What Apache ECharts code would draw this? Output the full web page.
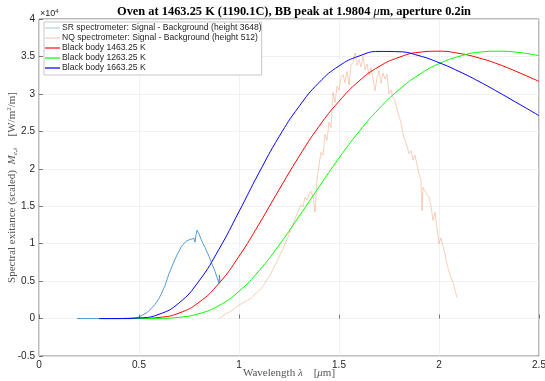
<!DOCTYPE html>
<html>
<head>
<meta charset="utf-8">
<script src="https://cdn.jsdelivr.net/npm/echarts@6/dist/echarts.min.js"></script>
<style>
  html, body { margin: 0; padding: 0; background: #fff; }
  #chart { width: 545px; height: 381px; }
</style>
</head>
<body>
<div id="chart"></div>
<script>
// values in units of 1e4 (axis shows x10^4)
const bbWavelength = [0.3, 0.4, 0.5, 0.6, 0.7, 0.8, 0.9, 1.0, 1.1, 1.2, 1.3, 1.4, 1.5, 1.6, 1.7, 1.8, 1.9, 2.0, 2.1, 2.2, 2.3, 2.4, 2.5];
const bb1463 = [0, 0, 0.001, 0.015, 0.073, 0.217, 0.471, 0.831, 1.261, 1.719, 2.164, 2.566, 2.901, 3.171, 3.365, 3.488, 3.556, 3.57, 3.541, 3.48, 3.393, 3.284, 3.167];
const bb1263 = [0, 0, 0, 0.002, 0.017, 0.065, 0.174, 0.364, 0.638, 0.979, 1.363, 1.758, 2.143, 2.496, 2.802, 3.056, 3.256, 3.403, 3.5, 3.557, 3.57, 3.553, 3.51];
const bb1663 = [0, 0, 0.008, 0.057, 0.208, 0.502, 0.926, 1.428, 1.947, 2.427, 2.831, 3.151, 3.373, 3.505, 3.567, 3.563, 3.51, 3.417, 3.3, 3.166, 3.018, 2.865, 2.71];

const srWavelength = [0.19, 0.25, 0.3, 0.35, 0.4, 0.45, 0.48, 0.5, 0.51, 0.52, 0.53, 0.54, 0.55, 0.56, 0.57, 0.58, 0.59, 0.6, 0.61, 0.62, 0.63, 0.64, 0.65, 0.66, 0.67, 0.68, 0.69, 0.7, 0.71, 0.72, 0.73, 0.74, 0.75, 0.76, 0.77, 0.775, 0.78, 0.785, 0.79, 0.8, 0.81, 0.82, 0.83, 0.84, 0.85, 0.86, 0.87, 0.88, 0.89, 0.895, 0.9, 0.902, 0.905];
const srSignal = [0, 0, 0, 0, 0, 0.005, 0.01, 0.02, 0.03, 0.05, 0.06, 0.08, 0.1, 0.13, 0.16, 0.19, 0.23, 0.27, 0.32, 0.38, 0.44, 0.52, 0.6, 0.66, 0.73, 0.79, 0.85, 0.9, 0.95, 0.99, 1.01, 1.04, 1.03, 1.06, 1.04, 1.07, 1.02, 1.12, 1.18, 1.13, 1.06, 1.0, 0.95, 0.89, 0.83, 0.76, 0.7, 0.63, 0.55, 0.53, 0.47, 0.58, 0.49];

const nqWavelength = [0.9, 0.91, 0.92, 0.93, 0.94, 0.95, 0.96, 0.97, 0.98, 0.99, 1.0, 1.01, 1.02, 1.03, 1.04, 1.05, 1.06, 1.07, 1.08, 1.09, 1.1, 1.11, 1.12, 1.13, 1.14, 1.15, 1.16, 1.17, 1.18, 1.19, 1.2, 1.21, 1.22, 1.23, 1.24, 1.25, 1.26, 1.27, 1.28, 1.29, 1.3, 1.31, 1.32, 1.33, 1.34, 1.35, 1.36, 1.37, 1.38, 1.39, 1.4, 1.41, 1.42, 1.43, 1.44, 1.45, 1.46, 1.47, 1.48, 1.49, 1.5, 1.51, 1.52, 1.53, 1.54, 1.55, 1.56, 1.57, 1.58, 1.59, 1.6, 1.61, 1.62, 1.63, 1.64, 1.65, 1.66, 1.67, 1.68, 1.69, 1.7, 1.71, 1.72, 1.73, 1.74, 1.75, 1.76, 1.77, 1.78, 1.79, 1.8, 1.81, 1.82, 1.83, 1.84, 1.85, 1.86, 1.87, 1.88, 1.89, 1.9, 1.91, 1.915, 1.92, 1.93, 1.94, 1.95, 1.96, 1.97, 1.98, 1.99, 2.0, 2.01, 2.02, 2.03, 2.04, 2.05, 2.06, 2.07, 2.08, 2.09];
const nqSignal = [0, 0.02, 0.04, 0.05, 0.07, 0.08, 0.1, 0.12, 0.14, 0.16, 0.18, 0.19, 0.21, 0.22, 0.24, 0.23, 0.27, 0.3, 0.31, 0.35, 0.37, 0.4, 0.43, 0.47, 0.52, 0.56, 0.6, 0.66, 0.71, 0.76, 0.82, 0.88, 0.93, 1.0, 1.06, 1.12, 1.2, 1.26, 1.33, 1.4, 1.46, 1.52, 1.49, 1.62, 1.58, 1.66, 1.7, 1.62, 1.42, 1.85, 2.05, 2.22, 2.18, 2.46, 2.38, 2.62, 2.55, 3.02, 2.88, 3.1, 3.05, 3.22, 3.26, 3.15, 3.3, 3.12, 3.38, 3.42, 3.55, 3.38, 3.46, 3.36, 3.5, 3.32, 3.4, 3.25, 3.35, 3.2, 3.04, 3.22, 3.31, 3.14, 3.28, 3.2, 3.26, 3.0, 3.05, 2.95, 2.91, 2.8, 2.7, 2.62, 2.46, 2.38, 2.3, 2.2, 2.24, 2.12, 2.18, 2.2, 1.93, 1.84, 1.44, 1.75, 1.7, 1.66, 1.62, 1.5, 1.31, 1.42, 1.4, 1.0, 1.08, 0.96, 0.86, 0.73, 0.62, 0.55, 0.48, 0.38, 0.28];

const xTicks = [0, 0.5, 1, 1.5, 2, 2.5];
const yTicks = [-0.5, 0, 0.5, 1, 1.5, 2, 2.5, 3, 3.5, 4];

const zip = (xs, ys) => xs.map((x, i) => [x, ys[i]]);

const chart = echarts.init(document.getElementById('chart'));
const sans = 'Liberation Sans';
const serif = 'Liberation Serif';

const lineSeries = (name, xs, ys, color, width, opacity, smooth) => ({
  name: name,
  type: 'line',
  data: zip(xs, ys),
  symbol: 'none',
  smooth: smooth,
  lineStyle: { color: color, width: width, opacity: opacity },
  itemStyle: { color: color },
  z: 2
});

const legendEntry = (name, color) => ({ name: name, icon: 'rect', itemStyle: { color: color } });

chart.setOption({
  animation: false,
  title: {
    text: 'Oven at 1463.25 K (1190.1C), BB peak at 1.9804 {i|μ}m, aperture 0.2in',
    left: 289,
    textAlign: 'center',
    top: 1,
    textStyle: {
      fontFamily: serif, fontWeight: 'bold', fontSize: 12.4, color: '#000',
      rich: { i: { fontFamily: serif, fontStyle: 'italic', fontWeight: 'normal', fontSize: 12.4 } }
    }
  },
  grid: {
    left: 39, right: 6, top: 19, bottom: 25,
    containLabel: false, outerBoundsMode: 'none',
    show: true, borderColor: '#262626', borderWidth: 0.6
  },
  legend: {
    orient: 'vertical',
    left: 44, top: 22,
    itemWidth: 15, itemHeight: 1.4, itemGap: 0,
    padding: [1, 0, 2, 1],
    backgroundColor: '#fff',
    borderColor: '#b0b0b0', borderWidth: 0.7,
    textStyle: { fontFamily: sans, fontSize: 8.6, lineHeight: 10, color: '#262626', padding: [0, 0, 0, -3] },
    data: [
      legendEntry('SR spectrometer: Signal - Background (height 3648)', '#bcd8ea'),
      legendEntry('NQ spectrometer: Signal - Background (height 512)', '#f6d0c0'),
      legendEntry('Black body 1463.25 K', '#ff3030'),
      legendEntry('Black body 1263.25 K', '#20ff20'),
      legendEntry('Black body 1663.25 K', '#2020ff')
    ]
  },
  xAxis: {
    type: 'value', min: 0, max: 2.5, interval: 0.5,
    name: 'Wavelength {i|λ}    [{i|μ}m]',
    nameLocation: 'middle', nameGap: 12, nameMoveOverlap: false,
    nameTextStyle: {
      fontFamily: serif, fontSize: 11, color: '#555', verticalAlign: 'top',
      rich: { i: { fontFamily: serif, fontStyle: 'italic', fontSize: 11, color: '#555' } }
    },
    axisLine: { show: false },
    axisTick: { show: true, inside: true, length: 4, lineStyle: { color: '#262626', width: 0.6 } },
    axisLabel: { fontFamily: sans, fontSize: 10, color: '#262626', margin: 4,
      formatter: v => xTicks.includes(v) ? String(v) : '' },
    splitLine: { show: true, lineStyle: { color: '#ebebeb', width: 0.7 } }
  },
  yAxis: {
    type: 'value', min: -0.5, max: 4, interval: 0.5,
    name: 'Spectral exitance (scaled)  {i|M}{s|e,λ}    [W/m{p|2}/m]',
    nameLocation: 'middle', nameGap: 20, nameMoveOverlap: false,
    nameTextStyle: {
      fontFamily: serif, fontSize: 11, color: '#555',
      rich: {
        i: { fontFamily: serif, fontStyle: 'italic', fontSize: 11, color: '#555' },
        s: { fontFamily: serif, fontStyle: 'italic', fontSize: 7, color: '#555', verticalAlign: 'bottom', padding: [6, 0, 0, 0] },
        p: { fontFamily: serif, fontSize: 7, color: '#555', verticalAlign: 'top', padding: [0, 0, 6, 0] }
      }
    },
    axisLine: { show: false },
    axisTick: { show: true, inside: true, length: 4, lineStyle: { color: '#262626', width: 0.6 } },
    axisLabel: { fontFamily: sans, fontSize: 10, color: '#262626', margin: 4,
      formatter: v => yTicks.includes(v) ? String(v) : '' },
    splitLine: { show: true, lineStyle: { color: '#ebebeb', width: 0.7 } }
  },
  graphic: [
    {
      type: 'text', left: 40, top: 8,
      style: {
        text: '×10{p|4}',
        font: '9px "Liberation Sans"', fill: '#262626',
        rich: { p: { fontFamily: sans, fontSize: 6, fill: '#262626', verticalAlign: 'top', padding: [0, 0, 5, 0] } }
      }
    }
  ],
  series: [
    lineSeries('SR spectrometer: Signal - Background (height 3648)', srWavelength, srSignal, '#2f86c4', 0.9, 0.9, false),
    lineSeries('NQ spectrometer: Signal - Background (height 512)', nqWavelength, nqSignal, '#ec9a72', 0.8, 0.6, false),
    lineSeries('Black body 1463.25 K', bbWavelength, bb1463, '#ff0000', 1, 1, true),
    lineSeries('Black body 1263.25 K', bbWavelength, bb1263, '#00ff00', 1, 1, true),
    lineSeries('Black body 1663.25 K', bbWavelength, bb1663, '#0000ff', 1, 1, true)
  ]
});
</script>
</body>
</html>
